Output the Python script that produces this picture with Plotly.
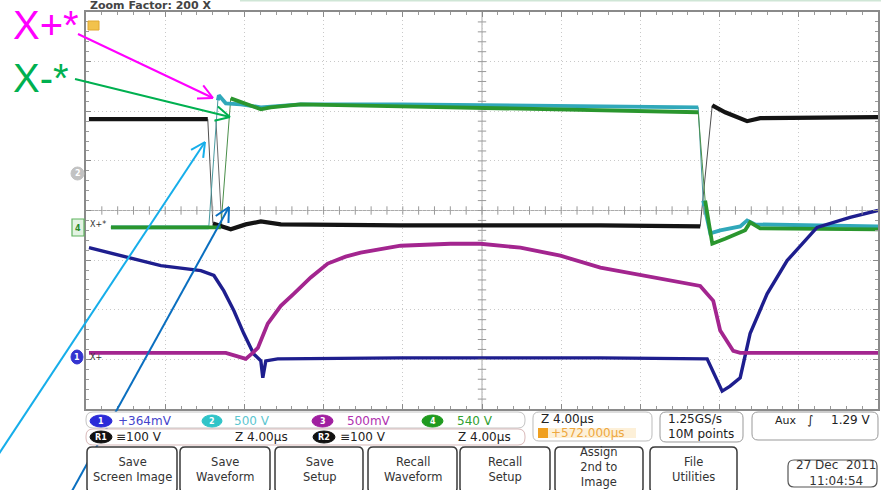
import math
import plotly.graph_objects as go

W, H = 881, 490

# ---------------- data (time in µs across 10 div x 4 µs, amplitude in divisions) ----------------
black_t = [0.15, 6.15, 6.41, 7.31, 8.07, 8.83, 9.84, 15.89, 25.98, 31.02, 31.63, 32.28, 33.39, 34.05, 40.0]
black_v = [1.84, 1.84, -0.26, -0.38, -0.28, -0.22, -0.28, -0.30, -0.30, -0.32, 2.12, 1.98, 1.80, 1.86, 1.88]

ref_t = [6.56, 6.86]
ref_v = [1.84, -0.32]

cyan_t = [1.26, 6.20, 6.66, 6.71, 7.06, 7.82, 8.83, 10.84, 15.89, 20.93, 25.98, 30.92, 31.17, 31.53,
          32.03, 33.04, 33.39, 33.80, 40.0]
cyan_v = [-0.34, -0.34, 2.22, 2.32, 2.16, 2.14, 2.08, 2.14, 2.14, 2.12, 2.10, 2.08, 0.20, -0.46,
          -0.40, -0.32, -0.20, -0.28, -0.32]

green_t = [1.26, 6.81, 7.31, 7.57, 8.07, 8.83, 9.33, 10.84, 15.89, 20.93, 25.98, 30.92, 31.27, 31.63,
           32.28, 33.29, 33.54, 34.05, 40.0]
green_v = [-0.34, -0.34, 2.26, 2.22, 2.14, 2.04, 2.08, 2.14, 2.10, 2.06, 2.02, 1.98, 0.20, -0.67,
           -0.57, -0.40, -0.24, -0.36, -0.38]

blue_t = [0.15, 2.12, 3.78, 5.80, 6.46, 6.96, 7.47, 7.97, 8.47, 8.83, 8.93, 9.08, 9.68, 15.89, 25.98,
          31.37, 31.78, 32.13, 32.53, 33.04, 33.54, 34.40, 35.41, 36.07, 36.92, 38.59, 40.0]
blue_v = [-0.75, -0.95, -1.11, -1.21, -1.31, -1.62, -2.02, -2.48, -2.89, -3.03, -3.37, -3.03, -2.99,
          -2.97, -2.97, -2.99, -3.33, -3.64, -3.54, -3.37, -2.48, -1.68, -1.01, -0.71, -0.34, -0.14, 0.0]

mag_t = [0.15, 7.06, 7.57, 8.07, 8.42, 8.68, 9.18, 9.84, 10.49, 11.35, 12.21, 13.11, 13.87, 15.89,
         18.41, 19.92, 21.94, 23.96, 25.98, 28.50, 31.02, 31.68, 32.03, 32.69, 33.04, 40.0]
mag_v = [-2.87, -2.87, -2.93, -2.99, -2.87, -2.77, -2.28, -1.92, -1.68, -1.35, -1.07, -0.93, -0.85,
         -0.71, -0.67, -0.67, -0.75, -0.91, -1.15, -1.33, -1.52, -1.82, -2.42, -2.83, -2.87, -2.87]

row1_labels = ["+364mV", "500 V", "500mV", "540 V"]
row2_labels = ["≡100 V", "Z 4.00µs", "≡100 V", "Z 4.00µs"]
button_labels = ["Save<br>Screen Image", "Save<br>Waveform", "Save<br>Setup", "Recall<br>Waveform",
                 "Recall<br>Setup", "Assign<br>2nd to<br>Image", "File<br>Utilities"]


# ---------------- helpers ----------------
def fx(x):
    return x / W


def fy(y):
    return 1 - y / H


def split_edges(t, v, thr=4.0):
    xs, ys = [t[0]], [v[0]]
    for i in range(1, len(t)):
        slope = abs((v[i] - v[i - 1]) / (t[i] - t[i - 1]))
        if slope > thr:
            xs.append(None)
            ys.append(None)
        xs.append(t[i])
        ys.append(v[i])
    return xs, ys


def rrect(x0, y0, x1, y1, r):
    def p(x, y):
        return f"{fx(x):.5f},{fy(y):.5f}"
    return (f"M {p(x0 + r, y0)} L {p(x1 - r, y0)} Q {p(x1, y0)} {p(x1, y0 + r)} "
            f"L {p(x1, y1 - r)} Q {p(x1, y1)} {p(x1 - r, y1)} L {p(x0 + r, y1)} "
            f"Q {p(x0, y1)} {p(x0, y1 - r)} L {p(x0, y0 + r)} Q {p(x0, y0)} {p(x0 + r, y0)} Z")


shapes = []
annots = []


def text(x, y, s, size=12, color="#333", xanchor="left", bold=False, family="DejaVu Sans", yanchor="middle"):
    annots.append(dict(x=fx(x), y=fy(y), xref="paper", yref="paper", text=(f"<b>{s}</b>" if bold else s),
                       showarrow=False, xanchor=xanchor, yanchor=yanchor,
                       font=dict(size=size, color=color, family=family)))


def box(x0, y0, x1, y1, r=5, line="#444", width=1.2, fill="white"):
    shapes.append(dict(type="path", path=rrect(x0, y0, x1, y1, r), xref="paper", yref="paper",
                       line=dict(color=line, width=width), fillcolor=fill, layer="above"))


def oval(x0, y0, x1, y1, fill, label, tcolor="white"):
    shapes.append(dict(type="circle", xref="paper", yref="paper", x0=fx(x0), x1=fx(x1), y0=fy(y1), y1=fy(y0),
                       fillcolor=fill, line=dict(color=fill, width=1), layer="above"))
    text((x0 + x1) / 2, (y0 + y1) / 2, label, size=8, color=tcolor, xanchor="center", bold=True)


def arrow(x0, y0, x1, y1, color, width=2, L=16, ang=27):
    shapes.append(dict(type="line", xref="paper", yref="paper", x0=fx(x0), y0=fy(y0), x1=fx(x1), y1=fy(y1),
                       line=dict(color=color, width=width), layer="above"))
    dx, dy = x1 - x0, y1 - y0
    n = math.hypot(dx, dy)
    ux, uy = dx / n, dy / n
    for s in (1, -1):
        a = math.radians(ang) * s
        rx = ux * math.cos(a) - uy * math.sin(a)
        ry = ux * math.sin(a) + uy * math.cos(a)
        shapes.append(dict(type="line", xref="paper", yref="paper", x0=fx(x1), y0=fy(y1),
                           x1=fx(x1 - L * rx), y1=fy(y1 - L * ry),
                           line=dict(color=color, width=width), layer="above"))


# ---------------- traces ----------------
fig = go.Figure()

# thin edge renderings (full data, thin)
for t, v, c in [(black_t, black_v, "#505050"), (ref_t, ref_v, "#6b6b6b"), (cyan_t, cyan_v, "#4a9aa0"),
                (green_t, green_v, "#4a8f4a")]:
    fig.add_trace(go.Scatter(x=t, y=v, mode="lines", line=dict(color=c, width=1), hoverinfo="skip",
                             showlegend=False))

# thick traces (steady parts)
for t, v, c, w in [(black_t, black_v, "#141414", 4.2), (cyan_t, cyan_v, "#30a8ba", 3.8),
                   (green_t, green_v, "#2a962e", 3.8), (blue_t, blue_v, "#1e1e8e", 3.4),
                   (mag_t, mag_v, "#a3258f", 3.8)]:
    xs, ys = split_edges(t, v)
    fig.add_trace(go.Scatter(x=xs, y=ys, mode="lines", line=dict(color=c, width=w), hoverinfo="skip",
                             showlegend=False, connectgaps=False))

# center-line minor ticks
tick_t = [i * 0.8 for i in range(1, 50)]
tick_v = [round(-4 + i * 0.2, 2) for i in range(1, 40)]
fig.add_trace(go.Scatter(x=tick_t, y=[0] * len(tick_t), mode="markers",
                         marker=dict(symbol="line-ns", size=6, line=dict(color="#9a9a9a", width=1)),
                         hoverinfo="skip", showlegend=False))
fig.add_trace(go.Scatter(x=[20] * len(tick_v), y=tick_v, mode="markers",
                         marker=dict(symbol="line-ew", size=6, line=dict(color="#9a9a9a", width=1)),
                         hoverinfo="skip", showlegend=False))

# center lines
shapes.append(dict(type="line", xref="x", yref="y", x0=0, x1=40, y0=0, y1=0,
                   line=dict(color="#ababab", width=1), layer="below"))
shapes.append(dict(type="line", xref="x", yref="y", x0=20, x1=20, y0=-4, y1=4,
                   line=dict(color="#ababab", width=1), layer="below"))

# ---------------- screen decorations ----------------
shapes.append(dict(type="line", xref="paper", yref="paper", x0=fx(240), x1=1, y0=fy(0.8), y1=fy(0.8),
                   line=dict(color="#cfe6d6", width=1.5)))
text(88, 5, "Zoom Factor: 200 X", size=11, color="#444", bold=True)

# channel markers at left
shapes.append(dict(type="rect", xref="paper", yref="paper", x0=fx(88), x1=fx(99), y0=fy(30), y1=fy(21),
                   fillcolor="#f2c24c", line=dict(color="#e0a830", width=1)))
oval(71, 167, 84, 180, "#c2c2c2", "2")
shapes.append(dict(type="rect", xref="paper", yref="paper", x0=fx(72), x1=fx(84), y0=fy(236), y1=fy(219),
                   fillcolor="#e3f3e3", line=dict(color="#5fb35f", width=1.2)))
text(78, 228, "4", size=8, color="#2a8a2a", xanchor="center", bold=True)
text(88, 225, "X+*", size=8, color="#333")
oval(71, 350, 83, 364, "#3434d0", "1")
text(88, 357, "X+", size=8, color="#333")

# big labels
text(11, 25, "X+*", size=40, color="#ff00ff", family="Liberation Sans")
text(11, 78, "X-*", size=40, color="#00b050", family="Liberation Sans")

# arrows
arrow(78, 34, 213, 98, "#ff00ff", width=2)
arrow(75, 79, 230, 117, "#00b050", width=2)
arrow(-25, 490, 205, 142, "#16aeea", width=2)
arrow(72, 491, 229, 207, "#0a6fc0", width=2)

# ---------------- bottom readout panel ----------------
box(86, 412, 525, 428, r=7, line="#c4c4c4", width=1)
box(86, 429, 525, 445, r=7, line="#d9b9b9", width=1)

r1 = [(90, 112, "#2b2bd8", "1", 116, "#4444cc"), (202, 222, "#30c4c8", "2", 232, "#5cc6d0"),
      (312, 333, "#a01fa0", "3", 345, "#b030b0"), (422, 443, "#1f9a1f", "4", 455, "#30a030")]
for (a, b, fc, lab, tx, tc), s in zip(r1, row1_labels):
    oval(a, 415, b, 427, fc, lab)
    text(tx, 421, s, size=12, color=tc)

oval(90, 431, 112, 443, "#111111", "R1")
oval(313, 431, 335, 443, "#111111", "R2")
for x, s in zip([114, 233, 338, 456], row2_labels):
    text(x, 437, s, size=12, color="#222")

box(533, 412, 652, 441, r=6, line="#bbbbbb", width=1)
text(539, 419, "Z 4.00µs", size=12, color="#222")
shapes.append(dict(type="rect", xref="paper", yref="paper", x0=fx(538), x1=fx(548), y0=fy(438), y1=fy(428),
                   fillcolor="#f0a020", line=dict(width=0)))
shapes.append(dict(type="rect", xref="paper", yref="paper", x0=fx(548), x1=fx(636), y0=fy(438), y1=fy(428),
                   fillcolor="#fdf0d8", line=dict(width=0)))
text(549, 433, "+572.000µs", size=12, color="#eea840")

box(660, 412, 743, 442, r=6, line="#999", width=1)
text(666, 419, "1.25GS/s", size=12, color="#222")
text(666, 434, "10M points", size=12, color="#222")

box(752, 412, 878, 440, r=6, line="#999", width=1)
text(773, 420, "Aux", size=11, color="#222")
text(810, 420, "∫", size=12, color="#222", xanchor="center")
text(873, 420, "1.29 V", size=12, color="#222", xanchor="right")

btn_x = [(87, 177), (180, 270), (275, 363), (368, 457), (460, 550), (555, 643), (650, 737)]
for (a, b), s in zip(btn_x, button_labels):
    box(a, 447, b, 493, r=5, line="#3a3a3a", width=1.5)
    text((a + b) / 2, 467 if s.count("<br>") > 1 else 469, s, size=11.5, color="#333", xanchor="center")

box(788, 460, 877, 487, r=6, line="#555", width=1.2)
text(794, 473, "27 Dec  2011<br>11:04:54", size=12, color="#333")

# ---------------- layout ----------------
grid = dict(showgrid=True, gridcolor="#c9c9c9", griddash="1px,3px", gridwidth=1, zeroline=False,
            showticklabels=False, ticks="inside", ticklen=5, tickcolor="#8a8a8a", showline=True,
            linecolor="#8a8a8a", linewidth=1.5, mirror="ticks", fixedrange=True)

fig.update_layout(
    width=W, height=H, margin=dict(l=0, r=0, t=0, b=0),
    paper_bgcolor="white", plot_bgcolor="white",
    font=dict(family="DejaVu Sans", size=12, color="#333"),
    xaxis=dict(domain=[fx(86), fx(878)], range=[0, 40], dtick=4,
               minor=dict(dtick=0.8, ticks="inside", ticklen=3, tickcolor="#9a9a9a", showgrid=False), **grid),
    yaxis=dict(domain=[fy(409), fy(12)], range=[-4, 4], dtick=1,
               minor=dict(dtick=0.2, ticks="inside", ticklen=3, tickcolor="#9a9a9a", showgrid=False), **grid),
    shapes=shapes, annotations=annots, showlegend=False,
)

fig.write_html("out.html")
